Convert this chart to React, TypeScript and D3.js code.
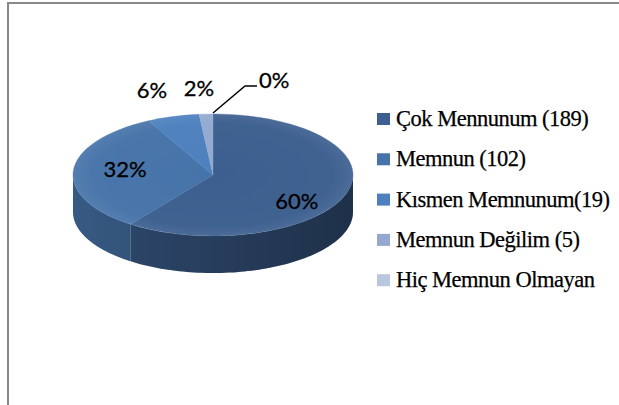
import React from "react";
import * as d3 from "d3";

const categories = [
  "Çok Mennunum (189)",
  "Memnun (102)",
  "Kısmen Memnunum(19)",
  "Memnun Değilim (5)",
  "Hiç Memnun Olmayan",
];
const values = [189, 102, 19, 5, 0];
const colors = ["#3C5F8F", "#4673A9", "#4D80BE", "#93A9D0", "#B9C6E0"];

const W = 619;
const H = 405;
const cx = 213;
const cy = 175;
const rx = 140;
const ry = 61;
const depth = 37;

export default function App() {
  const total = d3.sum(values);
  const fmt = d3.format(".0%");
  const pie = d3
    .pie<number>()
    .sort(null)
    .value((d) => d)
    .startAngle(0)
    .endAngle(2 * Math.PI);
  const arcs = pie(values);
  const arcGen = d3.arc<d3.PieArcDatum<number>>().innerRadius(0).outerRadius(rx);
  const px = (a: number, k = 1) => cx + rx * k * Math.sin(a);
  const py = (a: number, k = 1) => cy - ry * k * Math.cos(a);
  const line = d3.line();

  const sides = arcs
    .map((d, i) => {
      const a0 = Math.max(d.startAngle, Math.PI / 2);
      const a1 = Math.min(d.endAngle, (3 * Math.PI) / 2);
      if (a1 <= a0) return null;
      const n = 80;
      const angles = d3.range(n + 1).map((j) => a0 + ((a1 - a0) * j) / n);
      const top = angles.map((a) => [px(a), py(a)] as [number, number]);
      const bot = angles
        .slice()
        .reverse()
        .map((a) => [px(a), py(a) + depth] as [number, number]);
      return { i, d: line([...top, ...bot]) + "Z" };
    })
    .filter(Boolean) as { i: number; d: string }[];

  const legendY = d3.scaleLinear().domain([0, 1]).range([119, 159.3]);
  const labelProps = {
    fontFamily: "Lato, 'Open Sans', sans-serif",
    fontSize: 22,
    fill: "#000",
    stroke: "#000",
    strokeWidth: 0.3,
  };

  return (
    <svg
      width={W}
      height={H}
      style={{ position: "absolute", left: 0, top: 0, background: "#fff" }}
    >
      <defs>
        <linearGradient id="sideShade" x1={cx - rx} x2={cx + rx} y1={0} y2={0} gradientUnits="userSpaceOnUse">
          <stop offset="0" stopColor="#000" stopOpacity={0.12} />
          <stop offset="0.6" stopColor="#000" stopOpacity={0.3} />
          <stop offset="1" stopColor="#000" stopOpacity={0.42} />
        </linearGradient>
        <radialGradient id="topShade" cx={cx} cy={cy} r={rx} gradientUnits="userSpaceOnUse"
          gradientTransform={`translate(0,${cy}) scale(1,${ry / rx}) translate(0,${-cy})`}>
          <stop offset="0" stopColor="#fff" stopOpacity={0} />
          <stop offset="0.85" stopColor="#fff" stopOpacity={0.02} />
          <stop offset="1" stopColor="#fff" stopOpacity={0.08} />
        </radialGradient>
      </defs>
      <rect x={8} y={3} width={W + 20} height={H + 20} fill="#fff" stroke="#888" strokeWidth={2} />

      {/* side walls */}
      {sides.map((s) => (
        <g key={"s" + s.i}>
          <path d={s.d} fill={d3.color(colors[s.i])!.darker(0.35).formatHex()} />
          <path d={s.d} fill="url(#sideShade)" />
        </g>
      ))}

      {/* top faces */}
      <g transform={`translate(${cx},${cy}) scale(1,${ry / rx})`}>
        {arcs.map((d, i) =>
          d.endAngle > d.startAngle ? (
            <path key={"t" + i} d={arcGen(d)!} fill={colors[i]} stroke={colors[i]} strokeWidth={0.5} />
          ) : null
        )}
      </g>
      <ellipse cx={cx} cy={cy} rx={rx} ry={ry} fill="url(#topShade)" />

      {/* labels */}
      {arcs.map((d, i) => {
        const frac = values[i] / total;
        const mid = (d.startAngle + d.endAngle) / 2;
        const txt = fmt(frac);
        if (frac >= 0.15) {
          const x = cx + rx * 0.63 * Math.sin(mid);
          const y = cy - (ry * 0.64 + 42) * Math.cos(mid);
          return (
            <text key={"l" + i} x={x} y={y} textAnchor="middle" dominantBaseline="central" {...labelProps}>
              {txt}
            </text>
          );
        }
        if (values[i] > 0) {
          const ex = px(mid);
          const ey = py(mid);
          return (
            <text key={"l" + i} x={ex + 60 * Math.sin(mid) - 4} y={ey - 27} textAnchor="middle" dominantBaseline="central" {...labelProps}>
              {txt}
            </text>
          );
        }
        const ex = px(mid);
        const ey = py(mid) - 1;
        const kx = ex + 32;
        const ky = ey - 27;
        return (
          <g key={"l" + i}>
            <polyline points={`${ex},${ey} ${kx},${ky} ${kx + 12},${ky}`} fill="none" stroke="#000" strokeWidth={1.5} />
            <text x={kx + 14} y={ky + 2} textAnchor="start" {...labelProps}>
              {txt}
            </text>
          </g>
        );
      })}

      {/* legend */}
      {categories.map((c, i) => (
        <g key={"g" + i}>
          <rect x={377} y={legendY(i) - 6} width={13} height={12} fill={colors[i]} />
          <text
            x={396}
            y={legendY(i) + 7}
            fill="#000"
            stroke="#000"
            strokeWidth={0.25}
            fontFamily="Liberation Serif, Times New Roman, serif"
            fontSize={22.5}
            letterSpacing={-0.5}
          >
            {c}
          </text>
        </g>
      ))}
    </svg>
  );
}
